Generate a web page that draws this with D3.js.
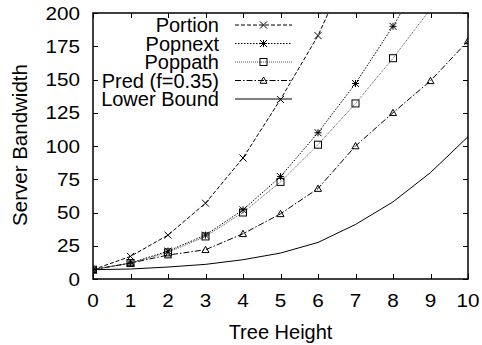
<!DOCTYPE html>
<html>
<head>
<meta charset="utf-8">
<script src="https://cdn.jsdelivr.net/npm/d3@7"></script>
<style>
  body { margin: 0; background: #fff; }
  text { font-family: "Liberation Sans", Arial, sans-serif; fill: #000; }
</style>
</head>
<body>
<svg id="chart" width="482" height="345"></svg>
<script>
// Tree heights on the x axis
const heights = [0, 1, 2, 3, 4, 5, 6, 7, 8, 9, 10];

// Server bandwidth per scheme
const portion = [7, 17, 33, 57, 91, 135, 183, 245, 310];
const popnext = [7, 12, 21, 33, 52, 77, 110, 147, 190, 238];
const poppath = [7, 12, 20, 32, 50, 73, 101, 132, 166, 203];
const pred = [7, 12, 18, 22, 34, 49, 68, 100, 125, 149, 179];
const lowerBound = [7, 7.5, 9, 11, 14.5, 19.5, 27.5, 41, 58, 80, 107];

const yTicks = [0, 25, 50, 75, 100, 125, 150, 175, 200];

const series = [
  { name: "Portion", values: portion, dash: "4,2", color: "#000", marker: "cross" },
  { name: "Popnext", values: popnext, dash: "1.5,1.5", color: "#000", marker: "star" },
  { name: "Poppath", values: poppath, dash: "1,1", color: "#555", marker: "square" },
  { name: "Pred (f=0.35)", values: pred, dash: "6,2,1.5,2", color: "#000", marker: "triangle" },
  { name: "Lower Bound", values: lowerBound, dash: null, color: "#000", marker: null }
];

const svg = d3.select("#chart");
const margin = { left: 93, right: 14, top: 13, bottom: 66 };
const width = 482 - margin.left - margin.right;
const height = 345 - margin.top - margin.bottom;

const x = d3.scaleLinear().domain([0, 10]).range([margin.left, margin.left + width]);
const y = d3.scaleLinear().domain([0, 200]).range([margin.top + height, margin.top]);

svg.append("clipPath").attr("id", "plot-clip")
  .append("rect")
  .attr("x", margin.left).attr("y", margin.top)
  .attr("width", width).attr("height", height);

// Ticks pointing inward, mirrored on top and right
const tickLen = 5;
const g = svg.append("g").attr("stroke", "#000").attr("stroke-width", 1);
heights.forEach(h => {
  const px = Math.round(x(h)) + 0.5;
  g.append("line").attr("x1", px).attr("x2", px)
    .attr("y1", y(0)).attr("y2", y(0) - tickLen);
  g.append("line").attr("x1", px).attr("x2", px)
    .attr("y1", y(200)).attr("y2", y(200) + tickLen);
});
yTicks.forEach(t => {
  const py = Math.round(y(t)) + 0.5;
  g.append("line").attr("x1", x(0)).attr("x2", x(0) + tickLen)
    .attr("y1", py).attr("y2", py);
  g.append("line").attr("x1", x(10)).attr("x2", x(10) - tickLen)
    .attr("y1", py).attr("y2", py);
});

// Tick labels (slightly stretched horizontally like the original)
svg.append("g").selectAll("text").data(heights).join("text")
  .attr("transform", d => `translate(${x(d)},${y(0) + 28}) scale(1.15,1)`)
  .attr("text-anchor", "middle").attr("font-size", 18)
  .text(d => d);
svg.append("g").selectAll("text").data(yTicks).join("text")
  .attr("transform", d => `translate(${x(0) - 13},${y(d) + 6.5}) scale(1.15,1)`)
  .attr("text-anchor", "end").attr("font-size", 18)
  .text(d => d);

// Axis titles
svg.append("text")
  .attr("x", x(5)).attr("y", 339)
  .attr("text-anchor", "middle").attr("font-size", 20)
  .text("Tree Height");
svg.append("text")
  .attr("transform", `translate(26.5,145) rotate(-90)`)
  .attr("text-anchor", "middle").attr("font-size", 20.5)
  .text("Server Bandwidth");

// Markers
function drawMarker(sel, type, cx, cy) {
  const s = 3.5;
  if (type === "cross") {
    sel.append("path").attr("d", `M${cx - s},${cy - s}L${cx + s},${cy + s}M${cx - s},${cy + s}L${cx + s},${cy - s}`)
      .attr("stroke", "#000").attr("fill", "none");
  } else if (type === "star") {
    sel.append("path").attr("d", `M${cx - s},${cy - s}L${cx + s},${cy + s}M${cx - s},${cy + s}L${cx + s},${cy - s}M${cx - s},${cy}L${cx + s},${cy}M${cx},${cy - s}L${cx},${cy + s}`)
      .attr("stroke", "#000").attr("fill", "none");
  } else if (type === "square") {
    sel.append("rect").attr("x", cx - s).attr("y", cy - s).attr("width", 2 * s).attr("height", 2 * s)
      .attr("stroke", "#000").attr("fill", "none");
  } else if (type === "triangle") {
    sel.append("path").attr("d", `M${cx},${cy - s}L${cx + s},${cy + s * 0.8}L${cx - s},${cy + s * 0.8}Z`)
      .attr("stroke", "#000").attr("fill", "none");
  }
}

// Data lines and points
const line = d3.line().x((d, i) => x(heights[i])).y(d => y(d));
const plot = svg.append("g").attr("clip-path", "url(#plot-clip)");
series.forEach(s => {
  plot.append("path")
    .attr("d", line(s.values))
    .attr("fill", "none")
    .attr("stroke", s.color)
    .attr("stroke-width", 1)
    .attr("stroke-dasharray", s.dash);
  if (s.marker) {
    s.values.forEach((v, i) => {
      if (v <= 200) drawMarker(plot, s.marker, x(heights[i]), y(v));
    });
  }
});

// Legend
const legend = svg.append("g");
series.forEach((s, i) => {
  const ly = 25 + i * 18.5;
  legend.append("text")
    .attr("x", 219).attr("y", ly + 7)
    .attr("text-anchor", "end").attr("font-size", 20)
    .text(s.name);
  legend.append("line")
    .attr("x1", 235).attr("x2", 292).attr("y1", ly).attr("y2", ly)
    .attr("stroke", s.color).attr("stroke-width", 1)
    .attr("stroke-dasharray", s.dash);
  if (s.marker) drawMarker(legend, s.marker, 263.5, ly);
});

// Frame
svg.append("rect")
  .attr("x", x(0)).attr("y", y(200))
  .attr("width", width).attr("height", height)
  .attr("fill", "none").attr("stroke", "#000").attr("stroke-width", 1.5);
</script>
</body>
</html>
